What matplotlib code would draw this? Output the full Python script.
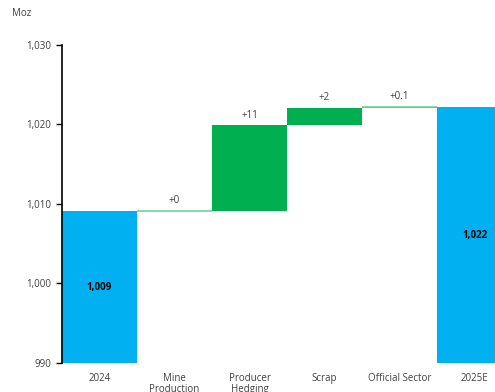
import matplotlib.pyplot as plt
import numpy as np

plt.rcParams['font.family'] = ['Open Sans', 'DejaVu Sans']

# Data
categories = ["2024", "Mine\nProduction", "Producer\nHedging", "Scrap", "Official Sector", "2025E"]
start_value = 1009.1
deltas = [0.0, 10.8, 2.2, 0.1]
labels = ["1,009", "+0", "+11", "+2", "+0.1", "1,022"]
yticks = [990, 1000, 1010, 1020, 1030]

BLUE = "#00B0F0"
GREEN = "#00B050"
EDGE = "#6CD696"
TEXT = "#404040"

end_value = start_value + sum(deltas)
bottoms = [990]
heights = [start_value - 990]
running = start_value
for d in deltas:
    bottoms.append(running)
    heights.append(d)
    running += d
bottoms.append(990)
heights.append(end_value - 990)
colors = [BLUE] + [GREEN] * len(deltas) + [BLUE]

fig = plt.figure(figsize=(4.95, 3.92), dpi=100)
ax = fig.add_axes([62 / 495, 29 / 392, 450 / 495, 318 / 392])

x = np.arange(len(categories))
ax.bar(x, heights, bottom=bottoms, width=1.0, color=colors, linewidth=0)

# thin connector lines for tiny changes
for i, d in enumerate(deltas, start=1):
    if d < 0.5:
        ax.hlines(bottoms[i] + d, i - 0.5, i + 0.5, color=EDGE, linewidth=1.2)

# labels
for i in (0, len(categories) - 1):
    ax.text(x[i], bottoms[i] + heights[i] / 2, labels[i], ha='center', va='center',
            fontsize=7, fontweight='bold', color='black')
for i in range(1, len(categories) - 1):
    ax.text(x[i], bottoms[i] + heights[i] + 0.6, labels[i], ha='center', va='bottom',
            fontsize=7, color=TEXT)

ax.set_xlim(-0.5, len(categories) - 0.5)
ax.set_ylim(990, 1030)
ax.set_yticks(yticks)
ax.set_yticklabels([f"{v:,}" for v in yticks])
ax.set_xticks(x)
ax.set_xticklabels(categories, linespacing=1.0)
ax.tick_params(axis='y', labelsize=7, colors=TEXT, length=4, width=1, pad=4)
ax.tick_params(axis='y', color='black')
ax.tick_params(axis='x', labelsize=7, colors=TEXT, length=0, pad=7)

for s in ['top', 'right', 'bottom']:
    ax.spines[s].set_visible(False)
ax.spines['left'].set_linewidth(1.2)

fig.text(12 / 495, 1 - 13 / 392, "Moz", fontsize=7, color=TEXT, va='center', ha='left')

fig.savefig("out.png", dpi=100)
